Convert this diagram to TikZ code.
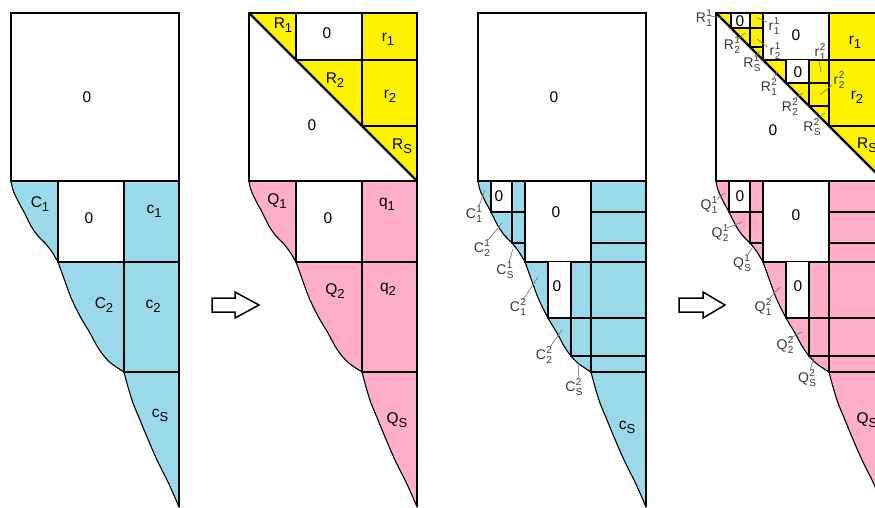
\documentclass[tikz,border=0pt]{standalone}
\usepackage{fontspec}
\setmainfont{Liberation Sans}
\definecolor{cblue}{RGB}{153,217,234}
\definecolor{cpink}{RGB}{255,174,201}
\definecolor{cyel}{RGB}{255,242,0}
\definecolor{lgray}{RGB}{125,125,125}
\definecolor{tgray}{RGB}{55,55,55}
\newcommand\sbl[2]{#1\raisebox{-4pt}{\fontsize{13}{13}\selectfont #2}}
\newcommand\ssl[3]{#1\kern0.4pt\rlap{\raisebox{6pt}{\fontsize{10}{10}\selectfont #2}}\raisebox{-4.5pt}{\fontsize{10}{10}\selectfont #3}}
\newcommand\lowregion[1]{%
 \filldraw[fill=#1, draw=black, line width=1.1pt, line join=round]
 (0,181) -- plot[smooth,tension=0.55] coordinates {(0,181) (2,190) (7,201) (13,212) (20,226) (27,236) (34,243) (41,252) (47,262)}
 -- plot[smooth,tension=0.55] coordinates {(47,262) (51,273) (56,287) (61,300) (70,318) (79,333) (86,346) (93,356) (101,364) (113,372)}
 -- plot[smooth,tension=0.55] coordinates {(113,372) (117,387) (122,403) (129,420) (136,437) (146,460) (156,480) (162,493) (168,507)}
 -- (168,181) -- cycle;}
\newcommand\lowgrid{%
 \fill[white] (47,181) rectangle (113,262);
 \draw[grid] (47,181) -- (47,262) -- (168,262);
 \draw[grid] (113,181) -- (113,372) -- (168,372);}
\newcommand\lowfine{%
 \fill[white] (13,181) rectangle (34,212);
 \fill[white] (70,262) rectangle (93,318);
 \draw[grid] (13,181) -- (13,212) -- (47,212);
 \draw[grid] (34,181) -- (34,243) -- (47,243);
 \draw[grid] (113,212) -- (168,212);
 \draw[grid] (113,243) -- (168,243);
 \draw[grid] (70,262) -- (70,318) -- (168,318);
 \draw[grid] (93,262) -- (93,356) -- (168,356);}
\newcommand\topgrid{%
 \fill[cyel] (0,13) -- (168,13) -- (168,181) -- cycle;
 \fill[white] (47,13) rectangle (113,60);
 \draw[grid] (47,13) -- (47,60) -- (168,60);
 \draw[grid] (113,13) -- (113,126) -- (168,126);}
\newcommand\topfine{%
 \fill[white] (15,13) rectangle (34,28);
 \fill[white] (70,60) rectangle (93,83);
 \draw[grid] (15,13) -- (15,28) -- (47,28);
 \draw[grid] (34,13) -- (34,47) -- (47,47);
 \draw[grid] (70,60) -- (70,83) -- (113,83);
 \draw[grid] (93,60) -- (93,106) -- (113,106);}
\begin{document}
\begin{tikzpicture}[x=1pt,y=-1pt,
  grid/.style={line width=1.5pt, line cap=rect},
  sq/.style={line width=1.3pt},
  diag/.style={line width=2.3pt},
  redge/.style={line width=1.6pt},
  lab/.style={font=\fontsize{15.5}{15.5}\selectfont, inner sep=0pt},
  mini/.style={font=\fontsize{14}{14}\selectfont, inner sep=0pt, text=tgray},
  leader/.style={draw=lgray, line width=0.7pt},
  blockarrow/.style={draw=black, fill=white, line width=1.5pt, line join=miter}]
\useasboundingbox (0,0) rectangle (875,508);
\clip (0,0) rectangle (875,508);
\fill[white] (0,0) rectangle (875,508);

% ---------------- panel 1
\begin{scope}[xshift=11pt]
 \lowregion{cblue}
 \lowgrid
 \draw[redge] (168,181) -- (168,507);
 \draw[sq, fill=white] (0,13) rectangle (168,181);
\end{scope}
% ---------------- panel 2
\begin{scope}[xshift=249pt]
 \lowregion{cpink}
 \lowgrid
 \draw[redge] (168,181) -- (168,507);
 \topgrid
 \draw[sq] (0,13) rectangle (168,181);
 \draw[diag] (0,13) -- (168,181);
\end{scope}
% ---------------- panel 3
\begin{scope}[xshift=478pt]
 \lowregion{cblue}
 \lowgrid
 \lowfine
 \draw[redge] (168,181) -- (168,507);
 \draw[sq, fill=white] (0,13) rectangle (168,181);
\end{scope}
% ---------------- panel 4
\begin{scope}[xshift=716pt]
 \lowregion{cpink}
 \lowgrid
 \lowfine
 \draw[redge] (168,181) -- (168,507);
 \topgrid
 \topfine
 \draw[sq] (0,13) rectangle (168,181);
 \draw[diag] (0,13) -- (168,181);
\end{scope}

% ---------------- arrows
\draw[blockarrow] (212,298) -- (235,298) -- (235,292) -- (259,305) -- (235,318) -- (235,312) -- (212,312) -- cycle;
\draw[blockarrow] (679,298) -- (703,298) -- (703,292) -- (725,305) -- (703,318) -- (703,312) -- (679,312) -- cycle;

% ---------------- panel 1 labels
\node[lab] (p1z0) at (87,97) {0};
\node[lab] (p1C1) at (40,204) {\sbl{C}{1}};
\node[lab] (p1z1) at (89,218) {0};
\node[lab] (p1c1) at (154,211) {\sbl{c}{1}};
\node[lab] (p1C2) at (104,305) {\sbl{C}{2}};
\node[lab] (p1c2) at (153,306) {\sbl{c}{2}};
\node[lab] (p1cS) at (160,415) {\sbl{c}{S}};

% ---------------- panel 2 labels
\node[lab] (p2R1) at (283,25) {\sbl{R}{1}};
\node[lab] (p2z0) at (327,33) {0};
\node[lab] (p2r1) at (388,39) {\sbl{r}{1}};
\node[lab] (p2R2) at (335,80) {\sbl{R}{2}};
\node[lab] (p2r2) at (390,96) {\sbl{r}{2}};
\node[lab] (p2z1) at (312,125) {0};
\node[lab] (p2RS) at (402,146) {\sbl{R}{S}};
\node[lab] (p2Q1) at (277,201) {\sbl{Q}{1}};
\node[lab] (p2z2) at (328,218) {0};
\node[lab] (p2q1) at (387,204) {\sbl{q}{1}};
\node[lab] (p2Q2) at (335,291) {\sbl{Q}{2}};
\node[lab] (p2q2) at (388,289) {\sbl{q}{2}};
\node[lab] (p2QS) at (397,420) {\sbl{Q}{S}};

% ---------------- panel 3 labels
\node[lab] (p3z0) at (554,97) {0};
\node[lab] (p3z1) at (499,196) {0};
\node[lab] (p3z2) at (556,212) {0};
\node[lab] (p3z3) at (557,286) {0};
\node[lab] (p3cS) at (627,427) {\sbl{c}{S}};
\node[mini] (p3a) at (474,214) {\ssl{C}{1}{1}};
\node[mini] (p3b) at (482,248) {\ssl{C}{1}{2}};
\node[mini] (p3c) at (505,270) {\ssl{C}{1}{S}};
\node[mini] (p3d) at (518,307) {\ssl{C}{2}{1}};
\node[mini] (p3e) at (544,355) {\ssl{C}{2}{2}};
\node[mini] (p3f) at (574,387) {\ssl{C}{2}{S}};
\coordinate (p3a1) at (479,206); \coordinate (p3a2) at (485,190);
\coordinate (p3b1) at (488,240); \coordinate (p3b2) at (502,223);
\coordinate (p3c1) at (509,262); \coordinate (p3c2) at (513,249);
\coordinate (p3d1) at (523,300); \coordinate (p3d2) at (538,277);
\coordinate (p3e1) at (550,347); \coordinate (p3e2) at (562,330);
\coordinate (p3f1) at (578,380); \coordinate (p3f2) at (579,363);
\foreach \n in {a,b,c,d,e,f} \draw[leader] (p3\n1) -- (p3\n2);

% ---------------- panel 4 labels
\node[lab] (p4z0) at (740,21) {0};
\node[lab] (p4z1) at (796,35) {0};
\node[lab] (p4r1) at (855,42) {\sbl{r}{1}};
\node[lab] (p4z2) at (798,72) {0};
\node[lab] (p4r2) at (857,97) {\sbl{r}{2}};
\node[lab] (p4z3) at (773,130) {0};
\node[lab] (p4RS) at (867,145) {\sbl{R}{S}};
\node[lab] (p4z4) at (740,196) {0};
\node[lab] (p4z5) at (796,215) {0};
\node[lab] (p4z6) at (798,286) {0};
\node[lab] (p4QS) at (867,420) {\sbl{Q}{S}};

\node[mini] (p4ta) at (704,18) {\ssl{R}{1}{1}};
\node[mini] (p4tb) at (732,45) {\ssl{R}{1}{2}};
\node[mini] (p4tc) at (752,63) {\ssl{R}{1}{S}};
\node[mini] (p4td) at (774,26) {\ssl{r}{1}{1}};
\node[mini] (p4te) at (775,51) {\ssl{r}{1}{2}};
\node[mini] (p4tf) at (820,52) {\ssl{r}{2}{1}};
\node[mini] (p4tg) at (839,80) {\ssl{r}{2}{2}};
\node[mini] (p4th) at (769,87) {\ssl{R}{2}{1}};
\node[mini] (p4ti) at (790,107) {\ssl{R}{2}{2}};
\node[mini] (p4tj) at (812,127) {\ssl{R}{2}{S}};
\coordinate (p4ta1) at (710,16); \coordinate (p4ta2) at (722,18);
\coordinate (p4tb1) at (737,40); \coordinate (p4tb2) at (745,33);
\coordinate (p4tc1) at (755,57); \coordinate (p4tc2) at (760,51);
\coordinate (p4td1) at (767,22); \coordinate (p4td2) at (757,18);
\coordinate (p4te1) at (767,47); \coordinate (p4te2) at (757,39);
\coordinate (p4tf1) at (819,61); \coordinate (p4tf2) at (821,72);
\coordinate (p4tg1) at (832,85); \coordinate (p4tg2) at (820,95);
\coordinate (p4th1) at (773,80); \coordinate (p4th2) at (777,72);
\coordinate (p4ti1) at (793,100); \coordinate (p4ti2) at (803,93);
\coordinate (p4tj1) at (815,120); \coordinate (p4tj2) at (825,113);
\foreach \n in {a,b,c,d,e,f,g,h,i,j} \draw[leader] (p4t\n1) -- (p4t\n2);

\node[mini] (p4qa) at (709,205) {\ssl{Q}{1}{1}};
\node[mini] (p4qb) at (720,233) {\ssl{Q}{1}{2}};
\node[mini] (p4qc) at (742,263) {\ssl{Q}{1}{S}};
\node[mini] (p4qd) at (763,307) {\ssl{Q}{2}{1}};
\node[mini] (p4qe) at (785,345) {\ssl{Q}{2}{2}};
\node[mini] (p4qf) at (807,378) {\ssl{Q}{2}{S}};
\coordinate (p4qa1) at (717,199); \coordinate (p4qa2) at (725,193);
\coordinate (p4qb1) at (727,228); \coordinate (p4qb2) at (742,222);
\coordinate (p4qc1) at (747,256); \coordinate (p4qc2) at (752,248);
\coordinate (p4qd1) at (768,300); \coordinate (p4qd2) at (780,287);
\coordinate (p4qe1) at (790,338); \coordinate (p4qe2) at (802,332);
\coordinate (p4qf1) at (810,370); \coordinate (p4qf2) at (814,358);
\foreach \n in {a,b,c,d,e,f} \draw[leader] (p4q\n1) -- (p4q\n2);
\end{tikzpicture}
\end{document}
